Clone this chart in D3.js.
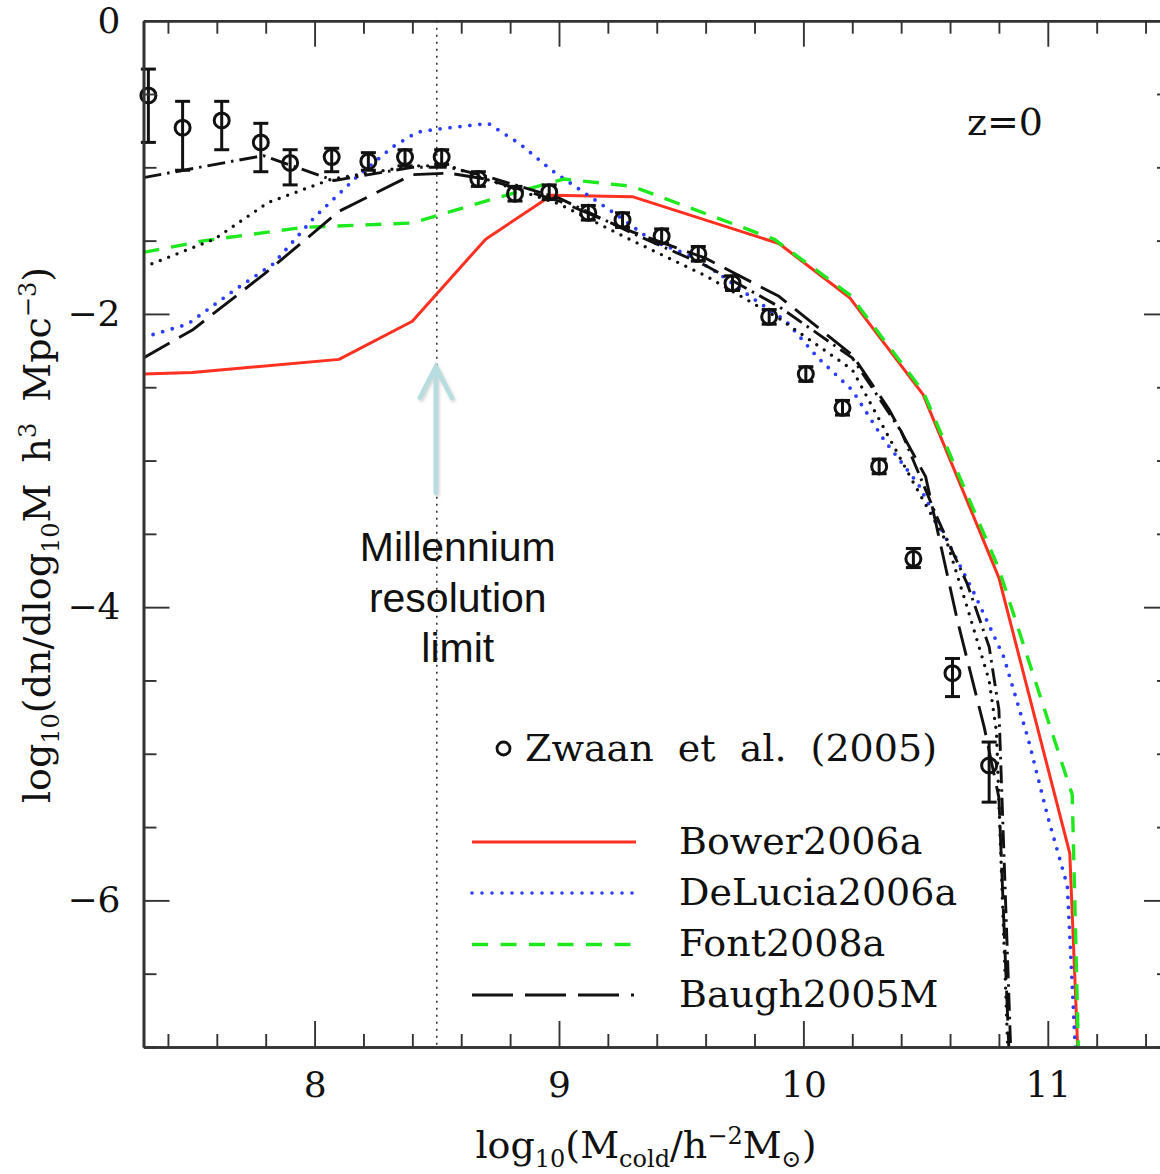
<!DOCTYPE html>
<html>
<head>
<meta charset="utf-8">
<script src="https://cdn.jsdelivr.net/npm/d3@7"></script>
<style>
  body { margin: 0; background: #fff; }
  svg { display: block; overflow: hidden; }
  text { font-family: "DejaVu Serif", serif; fill: #111; }
</style>
</head>
<body>
<svg id="chart" width="1160" height="1174"></svg>
<script>
// Zwaan et al. (2005) HI mass function points
var zwaanX  = [7.32, 7.46, 7.62, 7.78, 7.90, 8.07, 8.22, 8.37, 8.52, 8.67, 8.82, 8.96, 9.12, 9.26, 9.42, 9.57, 9.71, 9.86, 10.01, 10.16, 10.31, 10.45, 10.61, 10.76];
var zwaanY  = [-0.51, -0.73, -0.68, -0.83, -0.97, -0.93, -0.96, -0.93, -0.93, -1.08, -1.18, -1.17, -1.31, -1.36, -1.47, -1.59, -1.79, -2.02, -2.41, -2.64, -3.04, -3.67, -4.45, -5.08];
var zwaanHi = [-0.33, -0.55, -0.55, -0.70, -0.88, -0.87, -0.90, -0.88, -0.88, -1.03, -1.13, -1.12, -1.26, -1.31, -1.42, -1.54, -1.74, -1.97, -2.36, -2.59, -2.99, -3.60, -4.35, -4.92];
var zwaanLo = [-0.83, -1.02, -0.88, -1.03, -1.12, -1.03, -1.02, -0.99, -0.98, -1.13, -1.23, -1.22, -1.36, -1.41, -1.52, -1.64, -1.84, -2.07, -2.46, -2.69, -3.09, -3.73, -4.61, -5.33];

// model curves
var bowerX = [7.30, 7.50, 8.10, 8.40, 8.70, 8.97, 9.30, 9.90, 10.19, 10.49, 10.80, 11.09, 11.20];
var bowerY = [-2.41, -2.40, -2.31, -2.05, -1.49, -1.19, -1.20, -1.52, -1.89, -2.55, -3.80, -5.68, -10.2];

var deluciaX = [7.30, 7.48, 7.67, 7.83, 8.00, 8.17, 8.32, 8.42, 8.50, 8.71, 8.84, 8.97, 9.11, 9.25, 9.38, 9.52, 9.65, 9.79, 9.93, 10.06, 10.20, 10.33, 10.47, 10.55, 10.70, 10.82, 10.92, 11.00, 11.08, 11.13];
var deluciaY = [-2.16, -2.07, -1.84, -1.66, -1.34, -1.07, -0.86, -0.76, -0.74, -0.70, -0.84, -1.02, -1.18, -1.34, -1.50, -1.59, -1.72, -1.89, -2.05, -2.30, -2.52, -2.86, -3.16, -3.42, -3.91, -4.34, -4.90, -5.43, -5.90, -7.6];

var fontX = [7.30, 7.55, 7.95, 8.40, 8.70, 9.02, 9.30, 9.88, 10.19, 10.49, 10.80, 11.10, 11.20];
var fontY = [-1.58, -1.50, -1.41, -1.38, -1.23, -1.08, -1.13, -1.49, -1.87, -2.53, -3.74, -5.28, -12.2];

var baughDashX = [7.30, 7.50, 7.80, 8.10, 8.40, 8.55, 8.70, 9.00, 9.30, 9.60, 9.90, 10.20, 10.35, 10.50, 10.63, 10.74, 10.80, 10.90];
var baughDashY = [-2.30, -2.11, -1.72, -1.30, -1.05, -1.04, -1.08, -1.23, -1.44, -1.62, -1.88, -2.28, -2.65, -3.11, -4.09, -4.82, -5.30, -9.5];

var baughDotDashX = [7.30, 7.79, 8.08, 8.40, 8.55, 8.70, 9.00, 9.30, 9.60, 9.90, 10.20, 10.40, 10.55, 10.67, 10.76, 10.80, 10.90];
var baughDotDashY = [-1.07, -0.92, -1.09, -1.00, -1.00, -1.06, -1.21, -1.45, -1.67, -1.95, -2.30, -2.80, -3.40, -3.84, -4.27, -4.70, -9.5];

var baughDotX = [7.30, 7.59, 7.81, 8.07, 8.40, 8.55, 8.70, 9.00, 9.30, 9.60, 9.90, 10.20, 10.45, 10.59, 10.67, 10.76, 10.79, 10.90];
var baughDotY = [-1.68, -1.49, -1.24, -1.08, -0.99, -0.99, -1.08, -1.25, -1.50, -1.74, -2.03, -2.38, -3.15, -3.57, -4.00, -4.50, -4.85, -10.0];

var legendNames = ["Bower2006a", "DeLucia2006a", "Font2008a", "Baugh2005M"];
var resolutionLimit = 8.5;

var svg = d3.select("#chart");
var plotL = 143.5, plotR = 1170, plotT = 20.7, plotB = 1047;

var x = d3.scaleLinear().domain([7.3, 11.5]).range([plotL, plotR]);
var y = d3.scaleLinear().domain([-7, 0]).range([plotB, plotT]);

var defs = svg.append("defs");
defs.append("clipPath").attr("id", "plotclip")
  .append("rect")
  .attr("x", plotL).attr("y", plotT)
  .attr("width", plotR - plotL).attr("height", plotB - plotT);
// soft shadow under the annotation arrow
var shadow = defs.append("filter").attr("id", "soft")
  .attr("x", "-50%").attr("y", "-10%").attr("width", "200%").attr("height", "120%");
shadow.append("feDropShadow")
  .attr("dx", 1.5).attr("dy", 2).attr("stdDeviation", 1.8)
  .attr("flood-color", "#999").attr("flood-opacity", 0.45);

var line = d3.line()
  .x(function (d) { return x(d[0]); })
  .y(function (d) { return y(d[1]); });

function pairs(xs, ys) {
  return xs.map(function (v, i) { return [v, ys[i]]; });
}

// resolution limit
svg.append("line")
  .attr("x1", x(resolutionLimit)).attr("x2", x(resolutionLimit))
  .attr("y1", plotT).attr("y2", plotB)
  .attr("stroke", "#333").attr("stroke-width", 1.6)
  .attr("stroke-dasharray", "2,5");

var series = [
  {xs: bowerX, ys: bowerY, color: "#ff3020", width: 3, dash: null, cap: "butt"},
  {xs: deluciaX, ys: deluciaY, color: "#2b3dff", width: 3.8, dash: "0,10", cap: "round"},
  {xs: fontX, ys: fontY, color: "#1ee81e", width: 3.4, dash: "16,12", cap: "butt"},
  {xs: baughDashX, ys: baughDashY, color: "#111", width: 2.9, dash: "30,11", cap: "butt"},
  {xs: baughDotDashX, ys: baughDotDashY, color: "#111", width: 2.9, dash: "18,6,2.5,6", cap: "butt"},
  {xs: baughDotX, ys: baughDotY, color: "#111", width: 3.4, dash: "0,9", cap: "round"}
];

var curves = svg.append("g").attr("clip-path", "url(#plotclip)");
curves.selectAll("path")
  .data(series)
  .enter().append("path")
  .attr("d", function (d) { return line(pairs(d.xs, d.ys)); })
  .attr("fill", "none")
  .attr("stroke", function (d) { return d.color; })
  .attr("stroke-width", function (d) { return d.width; })
  .attr("stroke-dasharray", function (d) { return d.dash; })
  .attr("stroke-linecap", function (d) { return d.cap; })
  .attr("stroke-linejoin", "round");

// observational points
var obs = zwaanX.map(function (v, i) {
  return {x: v, y: zwaanY[i], hi: zwaanHi[i], lo: zwaanLo[i]};
});
var pts = svg.append("g").attr("stroke", "#111").attr("stroke-width", 3).attr("fill", "none");
var pt = pts.selectAll("g").data(obs).enter().append("g");
pt.append("line")
  .attr("x1", function (d) { return x(d.x); }).attr("x2", function (d) { return x(d.x); })
  .attr("y1", function (d) { return y(d.hi); }).attr("y2", function (d) { return y(d.lo); });
pt.append("line")
  .attr("x1", function (d) { return x(d.x) - 7.5; }).attr("x2", function (d) { return x(d.x) + 7.5; })
  .attr("y1", function (d) { return y(d.hi); }).attr("y2", function (d) { return y(d.hi); });
pt.append("line")
  .attr("x1", function (d) { return x(d.x) - 7.5; }).attr("x2", function (d) { return x(d.x) + 7.5; })
  .attr("y1", function (d) { return y(d.lo); }).attr("y2", function (d) { return y(d.lo); });
pt.append("circle")
  .attr("cx", function (d) { return x(d.x); })
  .attr("cy", function (d) { return y(d.y); })
  .attr("r", 7.5);

// axes, ticks inward on all four sides
var xMinor = d3.range(7.4, 11.5, 0.2).map(function (v) { return +v.toFixed(1); })
  .filter(function (v) { return v % 1 !== 0; });
var xMajor = [8, 9, 10, 11];
var yMinor = d3.range(-7, 0.01, 0.5).filter(function (v) { return v % 2 !== 0; });
var yMajor = [0, -2, -4, -6];

function styleAxis(g) {
  g.select(".domain").attr("stroke", "#333").attr("stroke-width", 2.6);
  g.selectAll(".tick line").attr("stroke", "#333").attr("stroke-width", 1.9);
  g.attr("font-family", null).attr("font-size", null);
  g.selectAll("text").attr("font-size", 36).attr("fill", "#111");
}

svg.append("g").attr("transform", "translate(0," + plotB + ")")
  .call(d3.axisBottom(x).tickValues(xMinor).tickSize(-13).tickFormat("").tickSizeOuter(0)).call(styleAxis);
svg.append("g").attr("transform", "translate(0," + plotB + ")")
  .call(d3.axisBottom(x).tickValues(xMajor).tickSize(-26).tickPadding(24).tickFormat(d3.format("d")).tickSizeOuter(0)).call(styleAxis);
svg.append("g").attr("transform", "translate(0," + plotT + ")")
  .call(d3.axisTop(x).tickValues(xMinor).tickSize(-13).tickFormat("").tickSizeOuter(0)).call(styleAxis);
svg.append("g").attr("transform", "translate(0," + plotT + ")")
  .call(d3.axisTop(x).tickValues(xMajor).tickSize(-26).tickFormat("").tickSizeOuter(0)).call(styleAxis);

svg.append("g").attr("transform", "translate(" + plotL + ",0)")
  .call(d3.axisLeft(y).tickValues(yMinor).tickSize(-13).tickFormat("").tickSizeOuter(0)).call(styleAxis);
svg.append("g").attr("transform", "translate(" + plotL + ",0)")
  .call(d3.axisLeft(y).tickValues(yMajor).tickSize(-26).tickPadding(23).tickFormat(d3.format("d")).tickSizeOuter(0)).call(styleAxis);
svg.append("g").attr("transform", "translate(" + plotR + ",0)")
  .call(d3.axisRight(y).tickValues(yMinor).tickSize(-13).tickFormat("").tickSizeOuter(0)).call(styleAxis);
svg.append("g").attr("transform", "translate(" + plotR + ",0)")
  .call(d3.axisRight(y).tickValues(yMajor).tickSize(-26).tickFormat("").tickSizeOuter(0)).call(styleAxis);

// axis titles
var xt = svg.append("text")
  .attr("x", 646).attr("y", 1158)
  .attr("text-anchor", "middle").attr("font-size", 38);
xt.append("tspan").text("log");
xt.append("tspan").attr("dy", 9).attr("font-size", 24).text("10");
xt.append("tspan").attr("dy", -9).text("(M");
xt.append("tspan").attr("dy", 9).attr("font-size", 24).text("cold");
xt.append("tspan").attr("dy", -9).text("/h");
xt.append("tspan").attr("dy", -14).attr("font-size", 24).text("\u22122");
xt.append("tspan").attr("dy", 14).text("M");
xt.append("tspan").attr("dy", 9).attr("font-size", 24).text("\u2299");
xt.append("tspan").attr("dy", -9).text(")");

var yt = svg.append("text")
  .attr("transform", "translate(50,535) rotate(-90)")
  .attr("text-anchor", "middle").attr("font-size", 38)
  .attr("word-spacing", 9);
yt.append("tspan").text("log");
yt.append("tspan").attr("dy", 9).attr("font-size", 24).text("10");
yt.append("tspan").attr("dy", -9).text("(dn/dlog");
yt.append("tspan").attr("dy", 9).attr("font-size", 24).text("10");
yt.append("tspan").attr("dy", -9).text("M h");
yt.append("tspan").attr("dy", -14).attr("font-size", 24).text("3");
yt.append("tspan").attr("dy", 14).text(" Mpc");
yt.append("tspan").attr("dy", -14).attr("font-size", 24).text("\u22123");
yt.append("tspan").attr("dy", 14).text(")");

// redshift label
svg.append("text")
  .attr("x", 967).attr("y", 135)
  .attr("font-size", 38)
  .text("z=0");

// legend
svg.append("circle")
  .attr("cx", 503.5).attr("cy", 748.5).attr("r", 6.5)
  .attr("fill", "none").attr("stroke", "#111").attr("stroke-width", 2.8);
svg.append("text")
  .attr("x", 525).attr("y", 761)
  .attr("font-size", 38).attr("word-spacing", 12)
  .text("Zwaan et al. (2005)");

var legendStyles = [
  {color: "#ff3020", width: 3, dash: null, cap: "butt"},
  {color: "#2b3dff", width: 3.6, dash: "0,10", cap: "round"},
  {color: "#1ee81e", width: 3.4, dash: "16,12.5", cap: "butt"},
  {color: "#111", width: 3, dash: "41,12,41,12,41,12,3,40", cap: "butt"}
];
var legendRowY = [842, 893, 944.5, 995];
var leg = svg.append("g").selectAll("g")
  .data(legendNames)
  .enter().append("g")
  .attr("transform", function (d, i) { return "translate(0," + legendRowY[i] + ")"; });
leg.append("line")
  .attr("x1", 472).attr("x2", 636).attr("y1", 0).attr("y2", 0)
  .attr("stroke", function (d, i) { return legendStyles[i].color; })
  .attr("stroke-width", function (d, i) { return legendStyles[i].width; })
  .attr("stroke-dasharray", function (d, i) { return legendStyles[i].dash; })
  .attr("stroke-linecap", function (d, i) { return legendStyles[i].cap; });
leg.append("text")
  .attr("x", 679).attr("y", 11.5)
  .attr("font-size", 38)
  .text(function (d) { return d; });

// annotation arrow for the resolution limit
var ax = x(resolutionLimit) - 1, ayTip = y(-2.36), ayBase = y(-3.22);
var arrow = svg.append("g")
  .attr("stroke", "#b6dde0").attr("stroke-width", 4.5)
  .attr("stroke-linecap", "round").attr("fill", "none")
  .attr("filter", "url(#soft)");
arrow.append("line").attr("x1", ax).attr("x2", ax).attr("y1", ayBase).attr("y2", ayTip + 2);
arrow.append("path")
  .attr("d", "M" + (ax - 16) + "," + (ayTip + 31) + "L" + ax + "," + ayTip + "L" + (ax + 16) + "," + (ayTip + 31));

var note = svg.append("text")
  .attr("text-anchor", "middle")
  .style("font-family", "'Liberation Sans', Arial, sans-serif")
  .attr("font-size", 41);
["Millennium", "resolution", "limit"].forEach(function (s, i) {
  note.append("tspan").attr("x", x(resolutionLimit) + 21).attr("y", 561 + i * 50.5).text(s);
});
</script>
</body>
</html>
